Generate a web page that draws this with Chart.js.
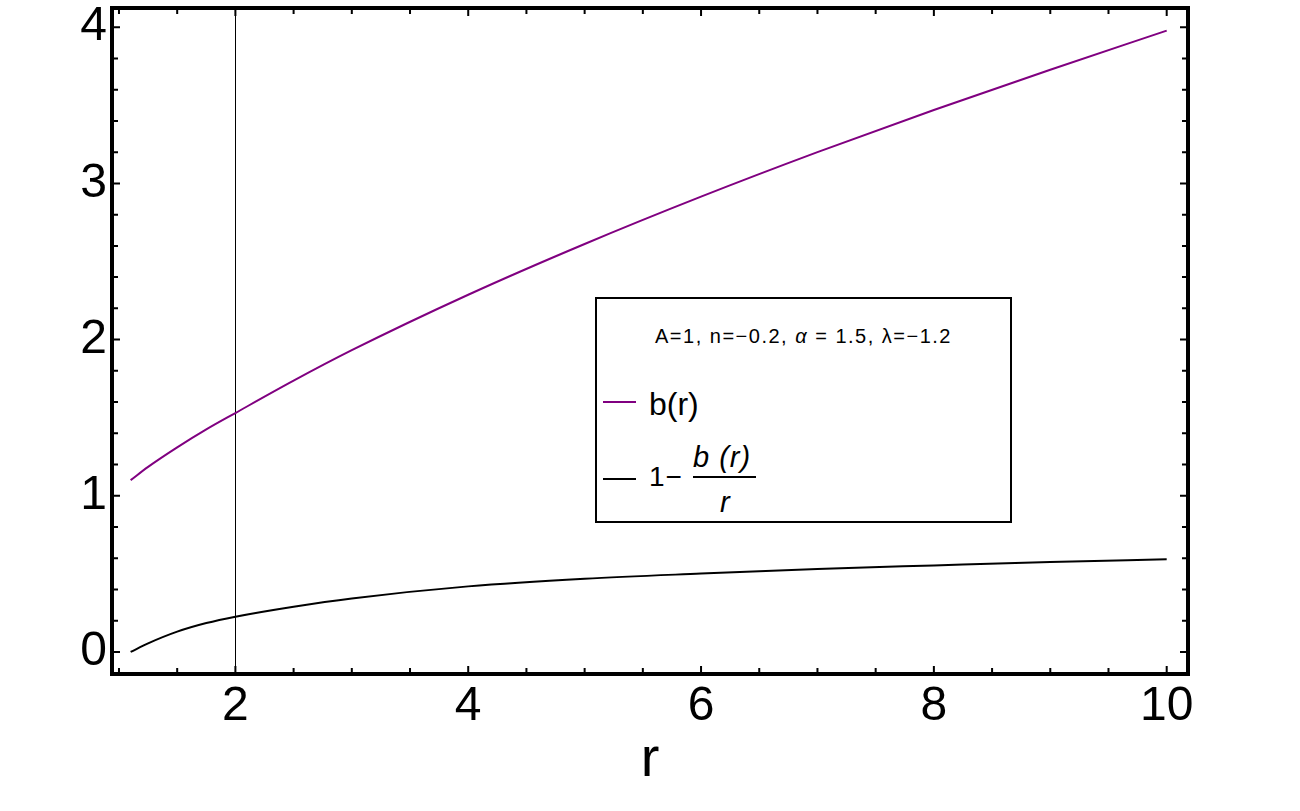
<!DOCTYPE html>
<html>
<head>
<meta charset="utf-8">
<script src="https://cdn.jsdelivr.net/npm/chart.js@4.4.1/dist/chart.umd.min.js"></script>
<style>
  body { margin: 0; background: #fff; }
  #wrap { position: relative; width: 1300px; height: 811px; font-family: 'Liberation Sans', Arial, sans-serif; }
  #legend { position: absolute; left: 595px; top: 297px; width: 417px; height: 226px; border: 2px solid #000; box-sizing: border-box; background: #fff; }
  #legend div { position: absolute; white-space: nowrap; }
  .head { left: 0; width: 413px; top: 27px; text-align: center; font-size: 20px; line-height: 20px; letter-spacing: 1.5px; }
  .sw { left: 6px; width: 33px; height: 2px; }
  .lab1 { left: 52px; top: 89px; font-size: 32px; line-height: 32px; }
  .one { left: 52px; top: 164px; font-size: 28px; line-height: 28px; letter-spacing: 1px; }
  .num { left: 96px; top: 144px; font-size: 29px; line-height: 29px; font-style: italic; letter-spacing: 1px; }
  .bar { left: 96px; top: 177px; width: 63px; height: 2px; background: #000; }
  .den { left: 123px; top: 189px; font-size: 29px; line-height: 29px; font-style: italic; }
</style>
</head>
<body>
<div id="wrap">
  <canvas id="chart"></canvas>
  <div id="legend">
    <div class="head">A=1, n=−0.2, <i>α</i> = 1.5, λ=−1.2</div>
    <div class="sw" style="top:102px;background:#800080"></div>
    <div class="lab1">b(r)</div>
    <div class="sw" style="top:179px;background:#000"></div>
    <div class="one">1−</div>
    <div class="num">b (r)</div>
    <div class="bar"></div>
    <div class="den">r</div>
  </div>
</div>
<script>
// values
const rValues = [1.1, 1.25, 1.5, 1.75, 2, 2.5, 3, 4, 5, 6, 7, 8, 9, 10];
const bValues = [1.10, 1.185, 1.31, 1.425, 1.53, 1.737, 1.932, 2.287, 2.612, 2.915, 3.20, 3.47, 3.728, 3.978];
const oneMinusBOverR = [0.00, 0.055, 0.13, 0.185, 0.226, 0.29, 0.343, 0.42, 0.469, 0.502, 0.531, 0.554, 0.576, 0.593];

const xTickLabels = [2, 4, 6, 8, 10];
const yTickLabels = [0, 1, 2, 3, 4];
const xMinorTicks = [1, 1.5, 2, 2.5, 3, 3.5, 4, 4.5, 5, 5.5, 6, 6.5, 7, 7.5, 8, 8.5, 9, 9.5, 10];
const yMinorTicks = [0, 0.2, 0.4, 0.6, 0.8, 1, 1.2, 1.4, 1.6, 1.8, 2, 2.2, 2.4, 2.6, 2.8, 3, 3.2, 3.4, 3.6, 3.8, 4];
const markerR = 2;

const toPoints = (ys) => rValues.map((r, i) => ({ x: r, y: ys[i] }));

// keep the plot frame where the reference has it, whatever the label sizes
const noPadding = (scale) => {
  scale.paddingTop = 0;
  scale.paddingBottom = 0;
  scale.paddingLeft = 0;
  scale.paddingRight = 0;
};

const framePlugin = {
  id: 'frame',
  beforeDatasetsDraw(chart) {
    const { ctx, chartArea: a, scales: { x } } = chart;
    const px = Math.round(x.getPixelForValue(markerR)) + 0.5;
    ctx.save();
    ctx.strokeStyle = '#000';
    ctx.lineWidth = 1;
    ctx.beginPath();
    ctx.moveTo(px, a.top);
    ctx.lineTo(px, a.bottom);
    ctx.stroke();
    ctx.restore();
  },
  afterDatasetsDraw(chart) {
    const { ctx, chartArea: a, scales: { x, y } } = chart;
    ctx.save();
    ctx.strokeStyle = '#000';
    ctx.lineWidth = 2;
    ctx.beginPath();
    xMinorTicks.forEach((v) => {
      const len = xTickLabels.includes(v) ? 8 : 6;
      const px = x.getPixelForValue(v);
      ctx.moveTo(px, a.bottom);
      ctx.lineTo(px, a.bottom - len);
      ctx.moveTo(px, a.top);
      ctx.lineTo(px, a.top + len);
    });
    yMinorTicks.forEach((v) => {
      const len = yTickLabels.includes(v) ? 8 : 6;
      const py = y.getPixelForValue(v);
      ctx.moveTo(a.left, py);
      ctx.lineTo(a.left + len, py);
      ctx.moveTo(a.right, py);
      ctx.lineTo(a.right - len, py);
    });
    ctx.stroke();
    ctx.lineWidth = 4;
    ctx.strokeRect(a.left, a.top, a.right - a.left, a.bottom - a.top);
    ctx.restore();
  },
};

const tickFont = { family: "'Liberation Sans', Arial, sans-serif", size: 48 };

new Chart(document.getElementById('chart'), {
  type: 'line',
  data: {
    datasets: [
      {
        label: 'b(r)',
        data: toPoints(bValues),
        borderColor: '#800080',
        borderWidth: 2,
        pointRadius: 0,
        cubicInterpolationMode: 'monotone',
      },
      {
        label: '1-b(r)/r',
        data: toPoints(oneMinusBOverR),
        borderColor: '#000',
        borderWidth: 2,
        pointRadius: 0,
        cubicInterpolationMode: 'monotone',
      },
    ],
  },
  options: {
    responsive: true,
    maintainAspectRatio: false,
    animation: false,
    layout: { autoPadding: false, padding: { left: 0, top: 8, right: 112, bottom: 0 } },
    plugins: { legend: { display: false }, tooltip: { enabled: false } },
    scales: {
      x: {
        type: 'linear',
        min: 0.94,
        max: 10.183,
        grid: { display: false, drawTicks: false },
        border: { display: false },
        afterBuildTicks: (scale) => { scale.ticks = xTickLabels.map((v) => ({ value: v })); },
        afterFit: (scale) => { scale.height = 137; noPadding(scale); },
        ticks: { color: '#000', font: tickFont, padding: 4, maxRotation: 0 },
        title: {
          display: true,
          text: 'r',
          color: '#000',
          font: { family: "'Liberation Sans', Arial, sans-serif", size: 56 },
          padding: { top: 0, bottom: 17 },
        },
      },
      y: {
        type: 'linear',
        min: -0.141,
        max: 4.123,
        grid: { display: false, drawTicks: false },
        border: { display: false },
        afterBuildTicks: (scale) => { scale.ticks = yTickLabels.map((v) => ({ value: v })); },
        afterFit: (scale) => { scale.width = 112; noPadding(scale); },
        ticks: { color: '#000', font: tickFont, padding: 5 },
      },
    },
  },
  plugins: [framePlugin],
});
</script>
</body>
</html>
